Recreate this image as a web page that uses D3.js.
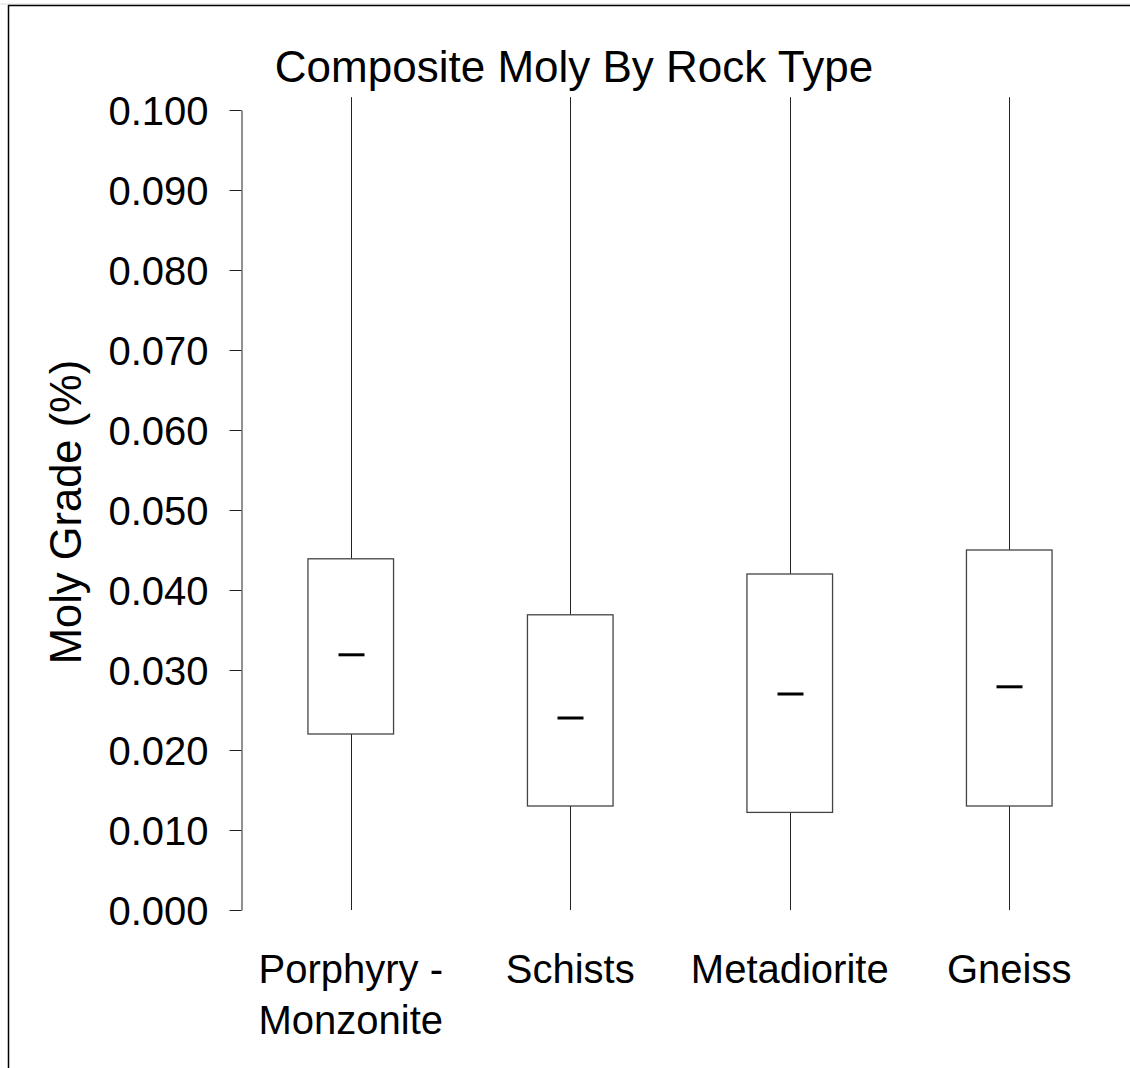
<!DOCTYPE html>
<html><head><meta charset="utf-8">
<script src="https://cdn.jsdelivr.net/npm/d3@7"></script>
<style>
html,body{margin:0;padding:0;background:#fff;}
svg{display:block;font-family:"Liberation Sans",Arial,sans-serif;}
</style></head>
<body>
<script>
const categories = ["Porphyry - Monzonite", "Schists", "Metadiorite", "Gneiss"];
const whiskerMin = [0.000, 0.000, 0.000, 0.000];
const q1Values = [0.0220, 0.0130, 0.0122, 0.0130];
const medianValues = [0.0319, 0.0240, 0.0270, 0.0279];
const q3Values = [0.0439, 0.0369, 0.0420, 0.0450];
const whiskerMax = [0.1016, 0.1016, 0.1016, 0.1016];
const yTicks = [0.000, 0.010, 0.020, 0.030, 0.040, 0.050, 0.060, 0.070, 0.080, 0.090, 0.100];

const W = 1130, H = 1068;
const svg = d3.select("body").append("svg").attr("width", W).attr("height", H);

// frame
svg.append("line").attr("x1", 0).attr("x2", W).attr("y1", 4).attr("y2", 4).attr("stroke", "#ddd").attr("stroke-width", 1);
svg.append("line").attr("x1", 8).attr("x2", W).attr("y1", 5.5).attr("y2", 5.5).attr("stroke", "#000").attr("stroke-width", 1.5);
svg.append("line").attr("x1", 8.5).attr("x2", 8.5).attr("y1", 5).attr("y2", H).attr("stroke", "#000").attr("stroke-width", 1.5);

const y = d3.scaleLinear().domain([0, 0.1]).range([910, 110]);
const x = d3.scaleBand().domain(categories).range([241, 1119]).paddingInner(0.61).paddingOuter(0.305);

// y axis
const yAxis = svg.append("g").attr("transform", "translate(241.5,0)")
  .call(d3.axisLeft(y).tickValues(yTicks).tickFormat(d3.format(".3f")).tickSize(12).tickPadding(21).tickSizeOuter(0));
yAxis.select(".domain").attr("stroke", "#222");
yAxis.selectAll(".tick line").attr("stroke", "#222");
yAxis.selectAll(".tick text").attr("font-size", 40).attr("fill", "#000").attr("font-family", "Liberation Sans, Arial, sans-serif").attr("dy", "0.36em");

// boxes
const data = categories.map((c, i) => ({c, lo: whiskerMin[i], q1: q1Values[i], med: medianValues[i], q3: q3Values[i], hi: whiskerMax[i]}));
const g = svg.append("g");
const bw = x.bandwidth();
data.forEach(d => {
  const cx = Math.round(x(d.c) + bw / 2) + 0.5;
  g.append("line").attr("x1", cx).attr("x2", cx).attr("y1", y(d.hi)).attr("y2", y(d.q3)).attr("stroke", "#222").attr("stroke-width", 1);
  g.append("line").attr("x1", cx).attr("x2", cx).attr("y1", y(d.q1)).attr("y2", y(d.lo)).attr("stroke", "#222").attr("stroke-width", 1);
  g.append("rect").attr("x", x(d.c)).attr("y", y(d.q3)).attr("width", bw).attr("height", y(d.q1) - y(d.q3))
    .attr("fill", "none").attr("stroke", "#444").attr("stroke-width", 1.3);
  g.append("line").attr("x1", cx - 13).attr("x2", cx + 13).attr("y1", y(d.med)).attr("y2", y(d.med)).attr("stroke", "#000").attr("stroke-width", 3);
});

// x labels
data.forEach(d => {
  const cx = x(d.c) + bw / 2;
  const parts = d.c.includes(" - ") ? [d.c.split(" - ")[0] + " -", d.c.split(" - ")[1]] : [d.c];
  const t = svg.append("text").attr("text-anchor", "middle").attr("font-size", 40).attr("fill", "#000");
  parts.forEach((p, i) => t.append("tspan").attr("x", cx).attr("y", 983 + i * 51).text(p));
});

// title
svg.append("text").attr("x", 574).attr("y", 82).attr("text-anchor", "middle").attr("font-size", 44).attr("fill", "#000")
  .text("Composite Moly By Rock Type");

// y title
svg.append("text").attr("transform", "translate(81,512) rotate(-90)").attr("text-anchor", "middle").attr("font-size", 43.5).attr("fill", "#000")
  .text("Moly Grade (%)");
</script>
</body></html>
